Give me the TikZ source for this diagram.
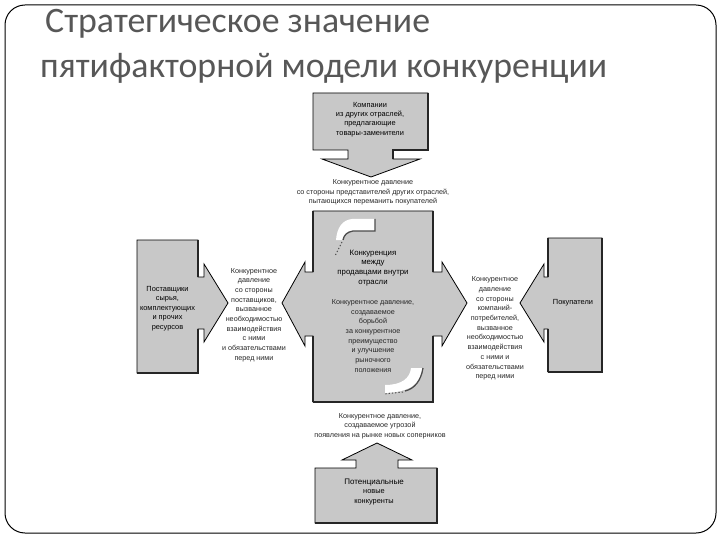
\documentclass[tikz,border=0pt]{standalone}
\usepackage{fontspec}
\setmainfont{Liberation Sans}
\newfontfamily\titlefont{Carlito}
\definecolor{titlegray}{HTML}{575757}
\definecolor{boxgray}{HTML}{C8C8C8}
\begin{document}
\begin{tikzpicture}[x=1pt,y=-1pt,
  blk/.style={fill=boxgray, draw=black, line width=0.8pt, line join=miter},
  shade/.style={draw=black!85, line width=2.2pt, line cap=rect},
  lbl/.style={font=\fontsize{7.2}{9.7}\selectfont, align=center, inner sep=0pt, text=black!85},
  boxtxt/.style={font=\fontsize{7.4}{9.4}\selectfont, align=center, inner sep=0pt, text=black},
  curl/.style={fill=white, draw=none},
  curledge/.style={draw=black!70, line width=1.3pt}
 ]
\useasboundingbox (0,0) rectangle (720,540);
% slide frame
\draw[line width=1pt, rounded corners=20pt] (5,5) rectangle (716,533);
% title
\node[anchor=base west, font=\titlefont\fontsize{35.8}{40}\selectfont, text=titlegray, inner sep=0pt] (t1) at (45,33) {Стратегическое значение};
\node[anchor=base west, font=\titlefont\fontsize{35.8}{40}\selectfont, text=titlegray, inner sep=0pt] (t2) at (40,78) {пятифакторной модели конкуренции};

% top box with down arrow
\path[blk] (313,93) -- (428,93) -- (428,150) -- (393,150) -- (393,159) -- (420,159) -- (371,177)
  -- (322,159) -- (348,159) -- (348,150) -- (313,150) -- cycle;
\draw[shade] (428,94) -- (428,150) -- (393,150) -- (393,158);

% central cross
\path[blk] (313,211) -- (433,211) -- (433,272) -- (442,272) -- (442,262) -- (467,303) -- (442,346)
  -- (442,336) -- (433,336) -- (433,402) -- (313,402) -- (313,336) -- (305,336) -- (305,346)
  -- (282,303) -- (305,262) -- (305,272) -- (313,272) -- cycle;
\draw[shade] (433,212) -- (433,271);
\draw[shade] (433,337) -- (433,402) -- (314,402);
\draw[shade] (313,212) -- (313,271);
\draw[shade] (313,337) -- (313,401);

% curved white arrows inside the central box
\path[curl] (375,219) -- (352,219) .. controls (342,220) and (337,228) .. (336,240)
  -- (343,240) .. controls (344,234) and (347,231) .. (353,231) -- (375,231) -- cycle;
\draw[curledge] (375,219) -- (375,231) -- (353,231) .. controls (347,232) and (344,235) .. (343,240);
\draw[curledge, dotted, line width=1pt] (342,242) -- (335,256);
\path[curl] (423,368) .. controls (421,384) and (410,392) .. (385,393) -- (385,385)
  .. controls (402,385) and (410,378) .. (411,368) -- cycle;
\draw[curledge] (423,368) .. controls (421,381) and (414,389) .. (405,391);
\draw[curledge, dotted, line width=1pt] (403,392) -- (384,394);

% left box (suppliers) with right arrow
\path[blk] (137,240) -- (198,240) -- (198,277) -- (204,277) -- (204,264) -- (228,303) -- (204,342)
  -- (204,329) -- (198,329) -- (198,373) -- (137,373) -- cycle;
\draw[shade] (198,241) -- (198,276);
\draw[shade] (198,330) -- (198,373) -- (138,373);

% right box (buyers) with left arrow
\path[blk] (548,238) -- (602,238) -- (602,372) -- (548,372) -- (548,329) -- (544,329) -- (544,342)
  -- (520,303) -- (544,264) -- (544,277) -- (548,277) -- cycle;
\draw[shade] (602,239) -- (602,372) -- (549,372);
\draw[shade] (548,239) -- (548,276);
\draw[shade] (548,330) -- (548,371);

% bottom box with up arrow
\path[blk] (315,468) -- (356,468) -- (356,460) -- (342,460) -- (377,443) -- (412,460) -- (398,460)
  -- (398,468) -- (437,468) -- (437,523) -- (315,523) -- cycle;
\draw[shade] (437,469) -- (437,523) -- (316,523);

% texts
\node[boxtxt] (sub) at (370,119.5) {Компании\\из других отраслей,\\предлагающие\\товары-заменители};
\node[lbl] (lsub) at (373,192.5) {Конкурентное давление\\со стороны представителей других отраслей,\\пытающихся переманить покупателей};
\node[boxtxt, font=\fontsize{7.8}{9.9}\selectfont] (riv) at (373,268) {Конкуренция\\между\\продавцами внутри\\отрасли};
\node[lbl] (lriv) at (373,336) {Конкурентное давление,\\создаваемое\\борьбой\\за конкурентное\\преимущество\\и улучшение\\рыночного\\положения};
\node[lbl] (lsup) at (254,315) {Конкурентное\\давление\\со стороны\\поставщиков,\\вызванное\\необходимостью\\взаимодействия\\с ними\\и обязательствами\\перед ними};
\node[lbl] (lbuy) at (495,328.5) {Конкурентное\\давление\\со стороны\\компаний-\\потребителей,\\вызванное\\необходимостью\\взаимодействия\\с ними и\\обязательствами\\перед ними};
\node[boxtxt] (sup) at (167.5,308.5) {Поставщики\\сырья,\\комплектующих\\и прочих\\ресурсов};
\node[boxtxt] (buy) at (573,303) {Покупатели};
\node[lbl] (lnew) at (380,426) {Конкурентное давление,\\создаваемое угрозой\\появления на рынке новых соперников};
\node[boxtxt] (new) at (374,492) {{\fontsize{8}{9.4}\selectfont Потенциальные}\\новые\\конкуренты};
\end{tikzpicture}
\end{document}
